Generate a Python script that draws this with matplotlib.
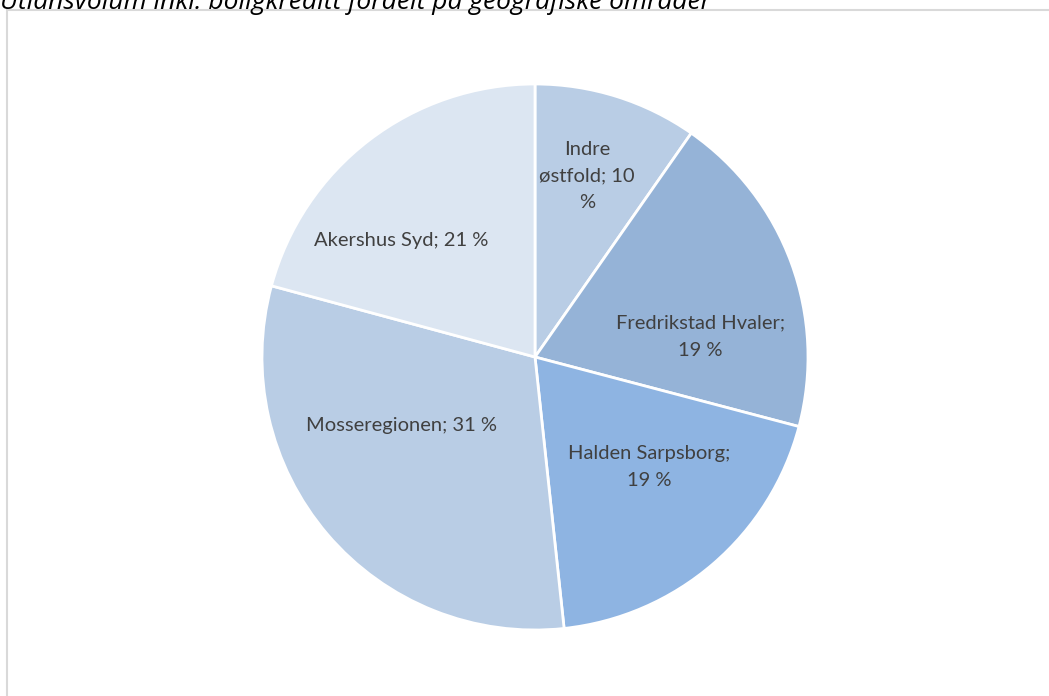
import matplotlib.pyplot as plt
import matplotlib.patches as mpatches
import numpy as np

# --- Data ---
regions = ["Indre østfold", "Fredrikstad Hvaler", "Halden Sarpsborg",
           "Mosseregionen", "Akershus Syd"]
shares = [9.7, 19.4, 19.2, 30.9, 20.8]
label_texts = ["Indre\nøstfold; 10\n%", "Fredrikstad Hvaler;\n19 %",
               "Halden Sarpsborg;\n19 %", "Mosseregionen; 31 %",
               "Akershus Syd; 21 %"]
colors = ["#b9cde5", "#95b3d7", "#8eb4e2", "#b9cde5", "#dce6f2"]

# label placement (angle from top clockwise in deg, radius fraction)
label_pos = [(16, 0.69), (83, 0.61), (134, 0.58), (243, 0.55), (311, 0.65)]

W, H = 1049, 696
fig = plt.figure(figsize=(W / 100, H / 100), dpi=100)
fig.patch.set_facecolor("white")

# chart frame
frame = mpatches.Rectangle((7 / W, -0.01), 1.2, 1 - 9.5 / H - (-0.01),
                           transform=fig.transFigure, fill=False,
                           edgecolor="#d9d9d9", linewidth=1.5)
fig.patches.append(frame)

# title (cut off at top edge, as in the source)
fig.text(0.0, 1 - 9 / H, "Utlånsvolum inkl. boligkreditt fordelt på geografiske områder",
         fontsize=19, fontstyle="italic", family="Open Sans", color="black",
         ha="left", va="baseline")

cx, cy, r = 535, 357, 273
ax = fig.add_axes([(cx - r) / W, (H - cy - r) / H, 2 * r / W, 2 * r / H])
ax.pie(shares, colors=colors, startangle=90, counterclock=False,
       wedgeprops=dict(edgecolor="white", linewidth=2))
ax.set_xlim(-1, 1)
ax.set_ylim(-1, 1)
ax.set_aspect("equal")
ax.axis("off")

for txt, (ang, rf) in zip(label_texts, label_pos):
    a = np.deg2rad(ang)
    ax.text(rf * np.sin(a), rf * np.cos(a), txt, ha="center", va="center",
            fontsize=14.5, family="Lato", color="#404040", linespacing=1.7)

fig.savefig("out.png", dpi=100)
